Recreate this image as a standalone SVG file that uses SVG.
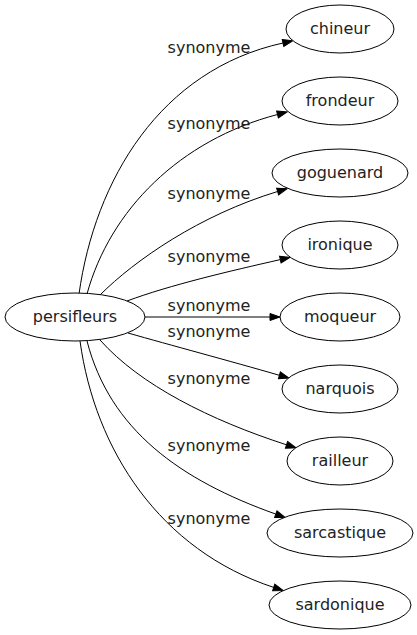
<svg xmlns="http://www.w3.org/2000/svg" width="417" height="635" viewBox="0 0 417 635">
<style>
.n ellipse{fill:#fff;stroke:#000;stroke-width:1}
.n text{font-family:"DejaVu Sans",sans-serif;font-size:16px;fill:#222;text-anchor:middle}
.e path{fill:none;stroke:#000;stroke-width:1;marker-end:url(#a)}
.l{font-family:"DejaVu Sans",sans-serif;font-size:16px;fill:#222;text-anchor:middle}
</style>
<defs>
<marker id="a" markerUnits="userSpaceOnUse" markerWidth="11" markerHeight="8" refX="0" refY="3.5" orient="auto" overflow="visible">
<path d="M0,0 L10,3.5 L0,7 z" fill="#000" stroke="#000" stroke-width="1"/>
</marker>
</defs>
<rect width="417" height="635" fill="#fff"/>
<g id="edges" class="e">
<path d="M79,294 C95,180 160,70 283,43"/>
<path d="M87,294 C110,210 180,140 277.5,114.5"/>
<path d="M100,295 C135,260 200,215 277.6,191.5"/>
<path d="M127,301 C170,285 230,271 280.3,259.6"/>
<path d="M145,317 L270,317"/>
<path d="M128,333 C170,345 230,361 279.4,375.3"/>
<path d="M100,340 C140,385 210,420 286.5,444.8"/>
<path d="M87,341 C110,430 180,480 275.8,514.1"/>
<path d="M80,341 C95,450 160,550 273.7,587.4"/>
</g>
<g id="labels">
<text class="l" x="209" y="53">synonyme</text>
<text class="l" x="209" y="129">synonyme</text>
<text class="l" x="209" y="199">synonyme</text>
<text class="l" x="209" y="262">synonyme</text>
<text class="l" x="209" y="311">synonyme</text>
<text class="l" x="209" y="337">synonyme</text>
<text class="l" x="209" y="384">synonyme</text>
<text class="l" x="209" y="451">synonyme</text>
<text class="l" x="209" y="524">synonyme</text>
</g>
<g id="persifleurs" class="n"><ellipse cx="75" cy="317" rx="70" ry="24"/><text x="75" y="322">persifleurs</text></g>
<g id="chineur" class="n"><ellipse cx="340" cy="29" rx="54" ry="24"/><text x="340" y="34">chineur</text></g>
<g id="frondeur" class="n"><ellipse cx="340" cy="101" rx="58" ry="24"/><text x="340" y="106">frondeur</text></g>
<g id="goguenard" class="n"><ellipse cx="340" cy="173" rx="68" ry="24"/><text x="340" y="178">goguenard</text></g>
<g id="ironique" class="n"><ellipse cx="340" cy="245" rx="58" ry="24"/><text x="340" y="250">ironique</text></g>
<g id="moqueur" class="n"><ellipse cx="340" cy="317" rx="60" ry="24"/><text x="340" y="322">moqueur</text></g>
<g id="narquois" class="n"><ellipse cx="340" cy="389" rx="58" ry="24"/><text x="340" y="394">narquois</text></g>
<g id="railleur" class="n"><ellipse cx="340" cy="461" rx="53" ry="24"/><text x="340" y="466">railleur</text></g>
<g id="sarcastique" class="n"><ellipse cx="340" cy="533" rx="73" ry="24"/><text x="340" y="538">sarcastique</text></g>
<g id="sardonique" class="n"><ellipse cx="340" cy="605" rx="71" ry="24"/><text x="340" y="610">sardonique</text></g>
</svg>
